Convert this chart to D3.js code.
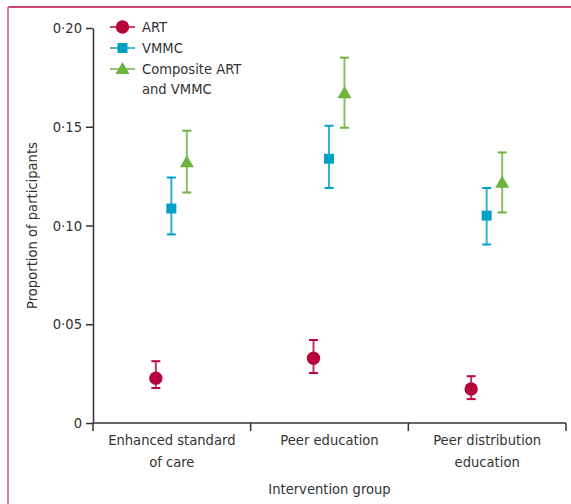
<!DOCTYPE html>
<html>
<head>
<meta charset="utf-8">
<script src="https://cdn.jsdelivr.net/npm/d3@7"></script>
<style>
  body { margin: 0; background: #fff; }
  text { font-family: "Liberation Sans Narrow", "DejaVu Sans Condensed", "Open Sans", sans-serif; fill: #333; }
</style>
</head>
<body>
<div id="chart"></div>
<script>
// data
const groups = [["Enhanced standard", "of care"], ["Peer education"], ["Peer distribution", "education"]];
const seriesNames = ["ART", "VMMC", "Composite ART|and VMMC"];
const seriesColors = ["#b5053c", "#00a0c6", "#6cb33f"];
const estimates = [
  [0.0227, 0.0328, 0.0172],
  [0.1086, 0.1338, 0.1050],
  [0.1320, 0.1670, 0.1217]
];
const lower = [
  [0.0177, 0.0253, 0.0121],
  [0.0955, 0.1190, 0.0904],
  [0.1167, 0.1495, 0.1066]
];
const upper = [
  [0.0313, 0.0420, 0.0237],
  [0.1243, 0.1505, 0.1190],
  [0.1480, 0.1850, 0.1370]
];
const yTicks = [0, 0.05, 0.10, 0.15, 0.20];

const W = 571, H = 504;
const fs = "14.6px";
const svg = d3.select("#chart").append("svg").attr("width", W).attr("height", H);

// frame
svg.append("line").attr("x1", 8).attr("x2", W).attr("y1", 7).attr("y2", 7)
  .attr("stroke", "#b5123f").attr("stroke-width", 1.5);
svg.append("line").attr("x1", 8).attr("x2", 8).attr("y1", 7).attr("y2", H)
  .attr("stroke", "#e27a9b").attr("stroke-width", 2);

const x0 = 93, x1 = 566, yBot = 423, yTop = 28;
const x = d3.scaleBand().domain(d3.range(groups.length)).range([x0, x1]);
const xs = d3.scalePoint().domain(d3.range(seriesNames.length)).range([-16, 15]);
const y = d3.scaleLinear().domain([0, 0.20]).range([yBot, yTop]);

const fmt = v => v === 0 ? "0" : d3.format(".2f")(v).replace(".", "·");

// y axis
const ya = svg.append("g").attr("transform", `translate(${x0},0)`)
  .call(d3.axisLeft(y).tickValues(yTicks).tickFormat(fmt).tickSize(7).tickSizeOuter(0).tickPadding(4));
ya.select(".domain").attr("stroke", "#333").attr("stroke-width", 1.5);
ya.selectAll(".tick line").attr("stroke", "#333").attr("stroke-width", 1.5);
ya.selectAll(".tick text").style("font-size", fs).attr("fill", "#333");

// x axis
const xa = svg.append("g").attr("transform", `translate(0,${yBot})`);
xa.append("line").attr("x1", x0).attr("x2", x1).attr("stroke", "#333").attr("stroke-width", 1.5);
xa.selectAll("line.tk").data(d3.range(groups.length + 1)).join("line").attr("class", "tk")
  .attr("x1", i => i < groups.length ? x(i) : x1).attr("x2", i => i < groups.length ? x(i) : x1)
  .attr("y1", 0).attr("y2", 8).attr("stroke", "#333").attr("stroke-width", 1.5);
const gl = xa.selectAll("text.gl").data(groups).join("text").attr("class", "gl")
  .attr("x", (d, i) => x(i) + x.bandwidth() / 2).attr("y", 22)
  .attr("text-anchor", "middle").style("font-size", fs);
gl.selectAll("tspan").data(d => d).join("tspan")
  .attr("x", function () { return this.parentNode.getAttribute("x"); })
  .attr("dy", (d, i) => i === 0 ? 0 : 22).text(d => d);

svg.append("text").attr("x", (x0 + x1) / 2).attr("y", 494).attr("text-anchor", "middle")
  .style("font-size", fs).text("Intervention group");
svg.append("text").attr("transform", `translate(37,${(yTop + yBot) / 2}) rotate(-90)`)
  .attr("text-anchor", "middle").style("font-size", fs).text("Proportion of participants");

// marker shapes
const shapes = [d3.symbolCircle, d3.symbolSquare, d3.symbolTriangle];
const sizes = [140, 100, 85];

seriesNames.forEach((name, s) => {
  const g = svg.append("g");
  const col = seriesColors[s];
  const pts = estimates[s].map((v, i) => ({ i, v, lo: lower[s][i], hi: upper[s][i] }));
  const cx = d => x(d.i) + x.bandwidth() / 2 + xs(s);
  g.selectAll("line.bar").data(pts).join("line").attr("class", "bar")
    .attr("x1", cx).attr("x2", cx).attr("y1", d => y(d.lo)).attr("y2", d => y(d.hi))
    .attr("stroke", col).attr("stroke-width", 2).attr("opacity", 0.8);
  ["lo", "hi"].forEach(k => {
    g.selectAll("line." + k).data(pts).join("line").attr("class", k)
      .attr("x1", d => cx(d) - 4.5).attr("x2", d => cx(d) + 4.5)
      .attr("y1", d => y(d[k])).attr("y2", d => y(d[k]))
      .attr("stroke", col).attr("stroke-width", 2);
  });
  g.selectAll("path").data(pts).join("path")
    .attr("transform", d => `translate(${cx(d)},${y(d.v) + (s === 2 ? 1 : 0)})`)
    .attr("d", d3.symbol().type(shapes[s]).size(sizes[s])).attr("fill", col);
});

// legend
const lg = svg.append("g").attr("transform", "translate(110,0)");
const legY = [27, 48, 69];
seriesNames.forEach((name, s) => {
  const row = lg.append("g").attr("transform", `translate(0,${legY[s]})`);
  row.append("line").attr("x1", 0).attr("x2", 25).attr("stroke", seriesColors[s]).attr("stroke-width", 1.5);
  row.append("path").attr("transform", `translate(12.5,${s === 2 ? 1 : 0})`)
    .attr("d", d3.symbol().type(shapes[s]).size(sizes[s])).attr("fill", seriesColors[s]);
  const t = row.append("text").attr("x", 32).attr("y", 5).style("font-size", fs);
  name.split("|").forEach((part, j) => {
    t.append("tspan").attr("x", 32).attr("dy", j === 0 ? 0 : 20).text(part);
  });
});
</script>
</body>
</html>
